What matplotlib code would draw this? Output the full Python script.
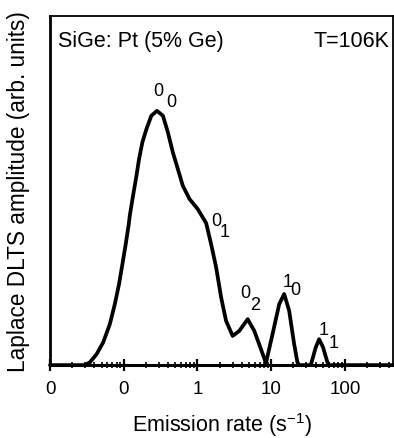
import matplotlib
matplotlib.use('Agg')
import matplotlib.pyplot as plt
from matplotlib.ticker import FixedLocator, LogLocator, NullFormatter

plt.rcParams['font.family'] = ['Liberation Sans', 'DejaVu Sans']
plt.rcParams['mathtext.fontset'] = 'custom'
plt.rcParams['mathtext.rm'] = 'Liberation Sans'

# Laplace DLTS spectrum (emission rate in s^-1, amplitude normalised)
RATE = [0.01, 0.0297, 0.0347, 0.0428, 0.0525, 0.0647, 0.0756, 0.0863, 0.0959, 0.1063,
        0.1169, 0.1206, 0.1336, 0.1485, 0.1611, 0.1791, 0.2028, 0.2368, 0.2818, 0.3397,
        0.3970, 0.4638, 0.5416, 0.6327, 0.7796, 1.009, 1.311, 1.531, 1.790, 2.091,
        2.442, 3.000, 3.697, 4.789, 5.892, 7.255, 8.479, 10.42, 12.83, 14.99,
        17.51, 20.46, 22.65, 23.9, 34.4, 40.2, 44.6, 50.5, 57.7, 60.8, 446.0]
AMPLITUDE = [0.0, 0.0, 0.011, 0.043, 0.089, 0.161, 0.240, 0.319, 0.398, 0.476,
             0.555, 0.588, 0.667, 0.745, 0.811, 0.878, 0.929, 0.982, 1.001, 0.982,
             0.916, 0.837, 0.772, 0.706, 0.654, 0.614, 0.559, 0.476, 0.385, 0.267,
             0.174, 0.115, 0.135, 0.181, 0.135, 0.063, 0.008, 0.122, 0.240, 0.280,
             0.214, 0.083, 0.012, 0.0, 0.0, 0.070, 0.102, 0.070, 0.012, 0.0, 0.0]

MAJOR_TICKS = [0.01, 0.1, 1, 10, 100]
TICK_LABELS = ['0', '0', '1', '10', '100']

# peak labels: main digit and its (same size) subscript digit
PEAK_MAIN = ['0', '0', '0', '1', '1']
PEAK_SUB = ['0', '1', '2', '0', '1']
MAIN_RATE = [0.254, 1.546, 3.81, 14.1, 44.6]
MAIN_AMP = [1.063, 0.551, 0.268, 0.311, 0.122]
SUB_RATE = [0.372, 2.0, 5.25, 18.2, 59.5]
SUB_AMP = [1.020, 0.508, 0.220, 0.280, 0.071]


def main():
    fig = plt.figure(figsize=(3.94, 4.39), dpi=100)
    ax = fig.add_axes([0.127, 0.166, 0.870, 0.795])

    ax.plot(RATE, AMPLITUDE, color='black', lw=2.7, solid_joinstyle='round',
            solid_capstyle='round', clip_on=False, zorder=3)
    ax.set_xscale('log')
    ax.set_xlim(0.01, 446)
    ax.set_ylim(0, 1.374)

    ax.xaxis.set_major_locator(FixedLocator(MAJOR_TICKS))
    ax.set_xticklabels(TICK_LABELS)
    ax.xaxis.set_minor_locator(LogLocator(base=10, subs=range(2, 10)))
    ax.xaxis.set_minor_formatter(NullFormatter())
    ax.tick_params(axis='x', which='major', direction='inout', length=9, width=1.6,
                   labelsize=13.5, pad=6)
    ax.tick_params(axis='x', which='minor', direction='inout', length=4, width=1.2)
    ax.set_yticks([])

    ax.spines['left'].set_linewidth(2.0)
    ax.spines['bottom'].set_linewidth(2.2)
    ax.spines['top'].set_linewidth(1.3)
    ax.spines['right'].set_linewidth(1.3)

    ax.set_xlabel('Emission rate (s$^{-1}$)', fontsize=15.5)
    ax.xaxis.label.set_va('baseline')
    ax.xaxis.set_label_coords(0.5, -0.188)
    ax.set_ylabel('Laplace DLTS amplitude (arb. units)', fontsize=16.3)
    ax.yaxis.label.set_va('center')
    ax.yaxis.set_label_coords(-0.093, 0.5)

    ax.text(0.023, 0.914, 'SiGe: Pt (5% Ge)', transform=ax.transAxes, fontsize=15.5,
            ha='left', va='baseline')
    ax.text(0.991, 0.914, 'T=106K', transform=ax.transAxes, fontsize=15.5,
            ha='right', va='baseline')

    for main_txt, sub_txt, mx, my, sx, sy in zip(PEAK_MAIN, PEAK_SUB, MAIN_RATE, MAIN_AMP,
                                               SUB_RATE, SUB_AMP):
        ax.text(mx, my, main_txt, fontsize=13, ha='left', va='baseline')
        ax.text(sx, sy, sub_txt, fontsize=13, ha='left', va='baseline')

    fig.savefig('out.png', dpi=100)


if __name__ == '__main__':
    main()
